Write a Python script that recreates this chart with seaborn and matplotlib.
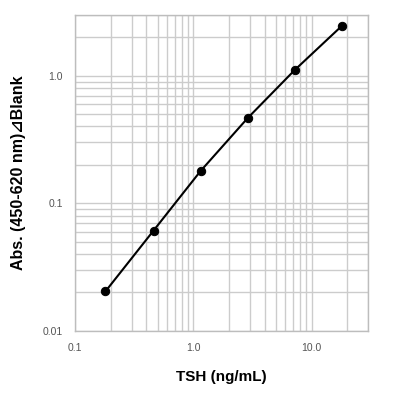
import numpy as np
import pandas as pd
import matplotlib
matplotlib.use("Agg")
import matplotlib.pyplot as plt
import seaborn as sns
from matplotlib.ticker import FixedLocator, LogLocator, NullFormatter

# standard curve values
tsh = [0.18, 0.46, 1.15, 2.88, 7.2, 18.0]
absorbance = [0.0203, 0.061, 0.179, 0.466, 1.11, 2.46]

x_ticks = [0.1, 1.0, 10.0]
x_tick_labels = ["0.1", "1.0", "10.0"]
y_ticks = [0.01, 0.1, 1.0]
y_tick_labels = ["0.01", "0.1", "1.0"]

df = pd.DataFrame({"tsh": tsh, "abs": absorbance})

sns.set_style("white")
plt.rcParams["font.family"] = ["Liberation Sans", "DejaVu Sans"]

fig = plt.figure(figsize=(4.0, 3.94), dpi=100)
ax = fig.add_axes([0.188, 0.1607, 0.732, 0.8013])

sns.lineplot(data=df, x="tsh", y="abs", ax=ax, color="black", linewidth=1.5,
             marker="o", markersize=6, markeredgecolor="black", zorder=5)

ax.set_xscale("log")
ax.set_yscale("log")
ax.set_xlim(0.1, 30)
ax.set_ylim(0.01, 3)

ax.xaxis.set_major_locator(FixedLocator(x_ticks))
ax.yaxis.set_major_locator(FixedLocator(y_ticks))
ax.set_xticklabels(x_tick_labels)
ax.set_yticklabels(y_tick_labels)
ax.xaxis.set_minor_locator(LogLocator(base=10, subs=np.arange(2, 10)))
ax.yaxis.set_minor_locator(LogLocator(base=10, subs=np.arange(2, 10)))
ax.xaxis.set_minor_formatter(NullFormatter())
ax.yaxis.set_minor_formatter(NullFormatter())

ax.grid(True, which="both", color="#cccccc", linewidth=1.0)
ax.set_axisbelow(True)
for s in ax.spines.values():
    s.set_color("#bdbdbd")
    s.set_linewidth(1.0)

ax.tick_params(axis="both", which="major", length=3, width=0.8, color="#888888",
               labelsize=7.5, labelcolor="#555555", pad=6)
ax.tick_params(axis="both", which="minor", length=0)

ax.set_xlabel("TSH (ng/mL)", fontsize=11, fontweight="bold", color="black")
ax.set_ylabel("Abs. (450-620 nm)\u22bfBlank", fontsize=11.5, fontweight="bold",
              color="black")
ax.xaxis.set_label_coords(0.5, -0.124)
ax.yaxis.set_label_coords(-0.168, 0.5)

fig.savefig("out.png", dpi=100)
